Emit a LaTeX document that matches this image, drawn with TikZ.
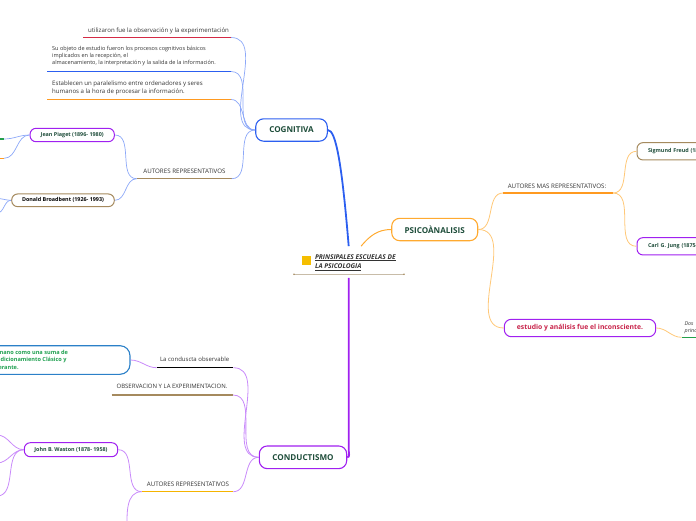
\documentclass[tikz,border=0pt]{standalone}
\usepackage{fontspec}
\setmainfont{Open Sans}
\definecolor{txtgray}{HTML}{333333}
\definecolor{dkgreen}{HTML}{1E4D3A}
\definecolor{mblue}{HTML}{2C5FF0}
\definecolor{lblue}{HTML}{8CA8F8}
\definecolor{morange}{HTML}{FFAA30}
\definecolor{lorange}{HTML}{FFC878}
\definecolor{mpurple}{HTML}{A020F0}
\definecolor{lpurple}{HTML}{C98BFA}
\definecolor{ured}{HTML}{D42A45}
\definecolor{uorange}{HTML}{FF9A20}
\definecolor{ubrown}{HTML}{A58A5E}
\definecolor{uyellow}{HTML}{F5B400}
\definecolor{ugreen}{HTML}{22A04A}
\definecolor{gbord}{HTML}{2B80C8}
\definecolor{gtext}{HTML}{1FA050}
\definecolor{redtext}{HTML}{C8234A}
\definecolor{sqy}{HTML}{F5BE00}
\definecolor{rootline}{HTML}{C8BCA8}
\begin{document}
\begin{tikzpicture}[x=1pt,y=-1pt,
  smtxt/.style={font=\fontsize{6}{7.2}\selectfont, text=txtgray, inner sep=0pt},
  mainbox/.style={draw, fill=white, rounded corners=8pt, line width=1.1pt, minimum height=22.4pt,
    font=\bfseries\fontsize{8.1}{9}\selectfont, text=dkgreen, inner sep=0pt},
  authbox/.style={draw, fill=white, rounded corners=6pt, line width=1pt,
    font=\bfseries\fontsize{5.4}{6}\selectfont, text=dkgreen, inner sep=0pt},
  uline/.style={line width=1.3pt},
  lb/.style={draw=lblue, line width=0.7pt},
  lo/.style={draw=lorange, line width=0.8pt},
  lp/.style={draw=lpurple, line width=0.8pt},
]
\useasboundingbox (0,0) rectangle (696,520);
\clip (0,0) rectangle (696,520);

% ---------- root ----------
\node[inner xsep=0pt, inner ysep=6pt, font=\bfseries\itshape\fontsize{6.6}{9.6}\selectfont, text=txtgray] (root) at (348.7,262)
  {\textcolor{sqy}{\rule[-1.6pt]{9pt}{9pt}}\hspace{4.3pt}\begin{tabular}[c]{@{}l@{}}\underline{PRINSIPALES ESCUELAS DE}\\\underline{LA PSICOLOGIA}\end{tabular}};
\draw[rootline, line width=0.6pt] (294,274.3) -- (404,274.3);
\fill[ubrown] (294,274.3) circle (0.9) (404,274.3) circle (0.9);

% ---------- COGNITIVA ----------
\node[mainbox, draw=mblue, minimum width=71.6pt] (cog) at (291.5,130) {COGNITIVA};

\node[smtxt, font=\fontsize{6.1}{7.2}\selectfont, anchor=base west] (t1) at (88,32) {utilizaron fue la observación y la experimentación};
\coordinate (u1w) at (83,37.5); \coordinate (u1e) at (231,37.5);
\draw[uline, ured] (u1w) -- (u1e);

\node[smtxt, font=\fontsize{5.55}{7}\selectfont, anchor=north west, align=left] (t2) at (52,46.5)
  {Su objeto de estudio fueron los procesos cognitivos básicos\\implicados en la recepción, el\\almacenamiento, la interpretación y la salida de la información.};
\coordinate (u2w) at (47,71.5); \coordinate (u2e) at (231,71.5);
\draw[uline, mblue] (u2w) -- (u2e);

\node[smtxt, font=\fontsize{6.1}{8.3}\selectfont, anchor=north west, align=left] (t3) at (52,80.5)
  {Establecen un paralelismo entre ordenadores y seres\\humanos a la hora de procesar la información.};
\coordinate (u3w) at (47,99.5); \coordinate (u3e) at (231,99.5);
\draw[uline, uorange] (u3w) -- (u3e);

\node[smtxt, font=\fontsize{6.2}{7}\selectfont, anchor=base] (a1) at (184.5,173.5) {AUTORES REPRESENTATIVOS};
\coordinate (a1w) at (136.7,178.7); \coordinate (a1e) at (231.7,178.7);
\draw[uline, ubrown] (a1w) -- (a1e);

\node[authbox, draw=mpurple, minimum width=84.3pt, minimum height=13.4pt] (piaget) at (72.2,135) {Jean Piaget (1896- 1980)};
\node[authbox, draw=ubrown, text=black, minimum width=102.6pt, minimum height=12.7pt] (donald) at (63,200.3) {Donald Broadbent (1926- 1993)};

\coordinate (pg1) at (4,139); \coordinate (po1) at (4,158.3);
\draw[uline, ugreen] (-20,139) -- (pg1);
\draw[uline, uorange] (-20,158.3) -- (po1);
\coordinate (dn1) at (-3,198.5); \coordinate (dn2) at (-3,213);

\draw[lb] (cog.west) to[out=180,in=0] (u1e);
\draw[lb] (cog.west) to[out=180,in=0] (u2e);
\draw[lb] (cog.west) to[out=180,in=0] (u3e);
\draw[lb] (cog.west) to[out=180,in=0] (a1e);
\draw[lb] (a1w) to[out=180,in=0] (piaget.east);
\draw[lb] (a1w) to[out=180,in=0] (donald.east);
\draw[lb] (piaget.west) to[out=180,in=0] (pg1);
\draw[lb] (piaget.west) to[out=180,in=0] (po1);
\draw[lb] (donald.west) to[out=180,in=0] (dn1);
\draw[lb] (donald.west) to[out=180,in=0] (dn2);

\draw[mblue, line width=1.8pt] (cog.east) .. controls (336,130) and (342,165) .. (root.north);

% ---------- PSICOANALISIS ----------
\node[mainbox, draw=morange, minimum width=86pt] (psi) at (434.7,229.5) {PSICOÀNALISIS};
\node[smtxt, font=\fontsize{6.2}{7}\selectfont, anchor=base] (amr) at (557,188.2) {AUTORES MAS REPRESENTATIVOS:};
\coordinate (amw) at (503,193); \coordinate (ame) at (613,193);
\draw[uline, uorange] (amw) -- (ame);

\node[authbox, draw=ubrown, minimum width=100pt, minimum height=17.3pt, inner xsep=11pt, text width=78pt, align=left] (freud) at (687,151.3) {Sigmund Freud (1856-1939)};
\node[authbox, draw=mpurple, minimum width=100pt, minimum height=17.3pt, inner xsep=11pt, text width=78pt, align=left] (jung) at (687,246.3) {Carl G. Jung (1875-1961)};

\node[authbox, draw=mpurple, text=redtext, font=\bfseries\fontsize{6.8}{7}\selectfont, rounded corners=7pt, minimum width=151.4pt, minimum height=17.4pt] (est) at (580,328) {estudio y análisis fue el inconsciente.};

\node[font=\itshape\fontsize{5.3}{7}\selectfont, text=txtgray, anchor=north west, align=left, inner sep=0pt] (dos) at (684.5,322) {Dos\\principales};
\coordinate (dosw) at (681.5,337.3);
\draw[uline, ugreen] (dosw) -- (730,337.3);

\draw[morange, line width=1pt] (root.52) to[out=50,in=180] (psi.west);
\draw[lo] (psi.east) to[out=0,in=180] (amw);
\draw[lo] (ame) to[out=0,in=180] (freud.west);
\draw[lo] (ame) to[out=0,in=180] (jung.west);
\draw[lo] (psi.east) to[out=0,in=180] (est.west);
\draw[lo] (est.east) to[out=0,in=180] (dosw);

% ---------- CONDUCTISMO ----------
\node[mainbox, draw=mpurple, minimum width=87.4pt, minimum height=22.7pt] (cond) at (303,457.3) {CONDUCTISMO};

\node[smtxt, font=\fontsize{6}{7}\selectfont, anchor=base] (c1) at (194.7,361.2) {La conduscta observable};
\coordinate (c1w) at (156.7,367.7); \coordinate (c1e) at (233.3,367.7);
\draw[uline, black] (c1w) -- (c1e);

\node[smtxt, font=\fontsize{6}{7}\selectfont, anchor=base] (c2) at (172,388.6) {OBSERVACION Y LA EXPERIMENTACION.};
\coordinate (c2w) at (111.7,395); \coordinate (c2e) at (233,395);
\draw[uline, ubrown] (c2w) -- (c2e);

\node[smtxt, font=\fontsize{6.2}{7}\selectfont, anchor=base] (c3) at (188,486.9) {AUTORES REPRESENTATIVOS};
\coordinate (c3w) at (141.7,491.7); \coordinate (c3e) at (233.3,491.7);
\draw[uline, uyellow] (c3w) -- (c3e);

\node[draw=gbord, fill=white, line width=1.1pt, rounded corners=10pt, minimum width=280pt, minimum height=28.6pt,
  inner xsep=5pt, inner ysep=0pt, font=\bfseries\fontsize{5.6}{7.5}\selectfont, text=gtext] (gbox) at (-10,360)
  {\makebox[270pt][l]{\hspace*{135.5pt}\begin{tabular}[c]{@{}l@{}}humano como una suma de\\condicionamiento Clásico y\\Operante.\end{tabular}}};

\node[authbox, draw=mpurple, minimum width=93.4pt, minimum height=14pt] (john) at (71,449.7) {John B. Waston (1878- 1958)};
\coordinate (jd) at (127,530);
\coordinate (jn1) at (-3,435); \coordinate (jn2) at (-3,463); \coordinate (jn3) at (-3,496);

\draw[mpurple, line width=1.8pt] (root.south) -- ++(0,172) to[out=-90,in=0] (cond.east);
\draw[lp] (cond.west) to[out=180,in=0] (c1e);
\draw[lp] (cond.west) to[out=180,in=0] (c2e);
\draw[lp] (cond.west) to[out=180,in=0] (c3e);
\draw[lp] (c1w) to[out=180,in=0] (gbox.east);
\draw[lp] (c3w) to[out=180,in=0] (john.east);
\draw[lp] (c3w) to[out=180,in=90] (jd);
\draw[lp] (john.west) to[out=180,in=0] (jn1);
\draw[lp] (john.west) to[out=180,in=0] (jn2);
\draw[lp] (john.west) to[out=180,in=0] (jn3);
\end{tikzpicture}
\end{document}
